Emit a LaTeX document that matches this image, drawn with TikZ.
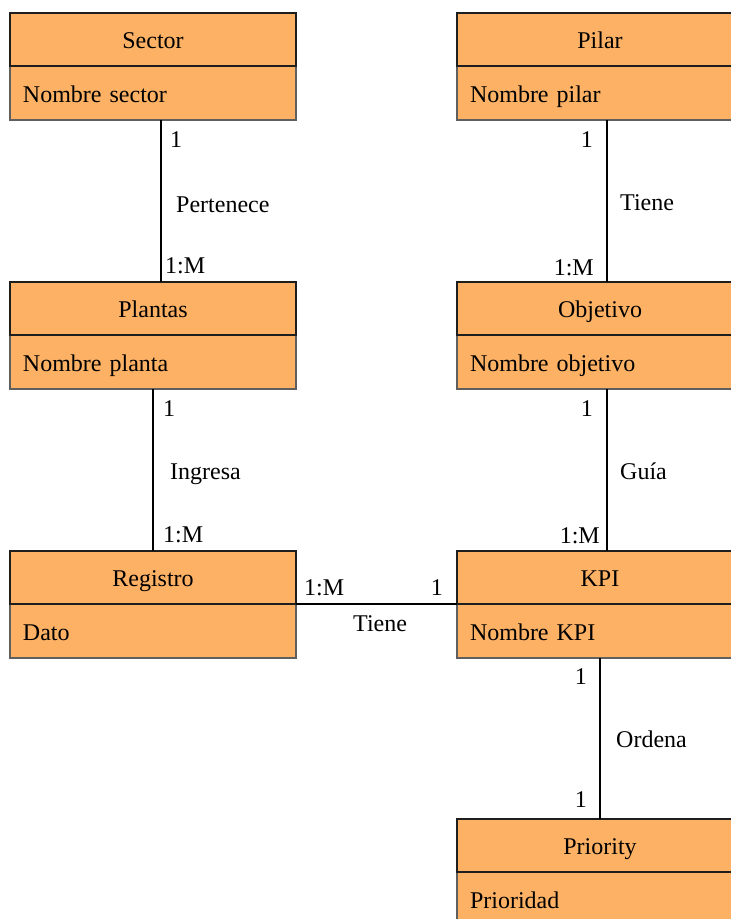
\documentclass[tikz,border=0pt]{standalone}
\usepackage{fontspec}
\setmainfont{Liberation Serif}
\definecolor{entfill}{RGB}{252,177,101}
\definecolor{edgedark}{RGB}{30,30,30}
\definecolor{edgegray}{RGB}{95,95,95}
\tikzset{
  txt/.style={font=\fontsize{24}{28}\selectfont},
  enttitle/.style={txt, draw=edgedark, line width=1.7pt, fill=entfill,
    minimum width=286pt, minimum height=53pt, inner sep=0pt, outer sep=0pt,
    text height=18pt, text depth=0pt, anchor=north west},
  entattr/.style={txt, draw=edgegray, line width=1.2pt, fill=entfill,
    text width=260pt, inner xsep=13pt, inner ysep=0pt, outer sep=0pt,
    text height=18pt, text depth=0pt,
    minimum height=54pt, align=left, anchor=north west},
  rel/.style={draw=black, line width=1.7pt},
  card/.style={txt, inner sep=0pt}
}
\begin{document}
\begin{tikzpicture}[x=1pt,y=-1pt]
\clip (0,0) rectangle (731,919);
\fill[white] (0,0) rectangle (731,919);

% entities: attribute part first, title part on top
\node[entattr] (sectorA) at (10,66) {Nombre sector};
\node[enttitle] (sector) at (10,13) {Sector};
\node[entattr] (pilarA) at (457,66) {Nombre pilar};
\node[enttitle] (pilar) at (457,13) {Pilar};

\node[entattr] (plantasA) at (10,335) {Nombre planta};
\node[enttitle] (plantas) at (10,282) {Plantas};
\node[entattr] (objetivoA) at (457,335) {Nombre objetivo};
\node[enttitle] (objetivo) at (457,282) {Objetivo};

\node[entattr] (registroA) at (10,604) {Dato};
\node[enttitle] (registro) at (10,551) {Registro};
\node[entattr] (kpiA) at (457,604) {Nombre KPI};
\node[enttitle] (kpi) at (457,551) {KPI};

\node[entattr] (priorityA) at (457,872) {Prioridad};
\node[enttitle] (priority) at (457,819) {Priority};

% relationships
\draw[rel] ([xshift=8pt]sectorA.south) -- ([xshift=8pt]plantas.north);
\draw[rel] ([xshift=7pt]pilarA.south) -- ([xshift=7pt]objetivo.north);
\draw[rel] (plantasA.south) -- (registro.north);
\draw[rel] ([xshift=7pt]objetivoA.south) -- ([xshift=7pt]kpi.north);
\draw[rel] (registro.south east) -- (kpi.south west);
\draw[rel] (kpiA.south) -- (priority.north);

% cardinalities and relationship names
\node[card, anchor=base west] (c1) at (170,147) {1};
\node[card, anchor=base west] (n1) at (176,212) {Pertenece};
\node[card, anchor=base west] (c2) at (165,273) {1:M};

\node[card, anchor=base east] (c3) at (593,147) {1};
\node[card, anchor=base west] (n2) at (620,210) {Tiene};
\node[card, anchor=base east] (c4) at (594,275) {1:M};

\node[card, anchor=base west] (c5) at (163,416) {1};
\node[card, anchor=base west] (n3) at (170,479) {Ingresa};
\node[card, anchor=base west] (c6) at (163,542) {1:M};

\node[card, anchor=base east] (c7) at (593,416) {1};
\node[card, anchor=base west] (n4) at (620,479) {Guía};
\node[card, anchor=base east] (c8) at (600,543) {1:M};

\node[card, anchor=base west] (c9) at (304,595) {1:M};
\node[card, anchor=base east] (c10) at (443,595) {1};
\node[card, anchor=base west] (n5) at (353,631) {Tiene};

\node[card, anchor=base east] (c11) at (587,684) {1};
\node[card, anchor=base west] (n6) at (616,747) {Ordena};
\node[card, anchor=base east] (c12) at (587,807) {1};
\end{tikzpicture}
\end{document}
